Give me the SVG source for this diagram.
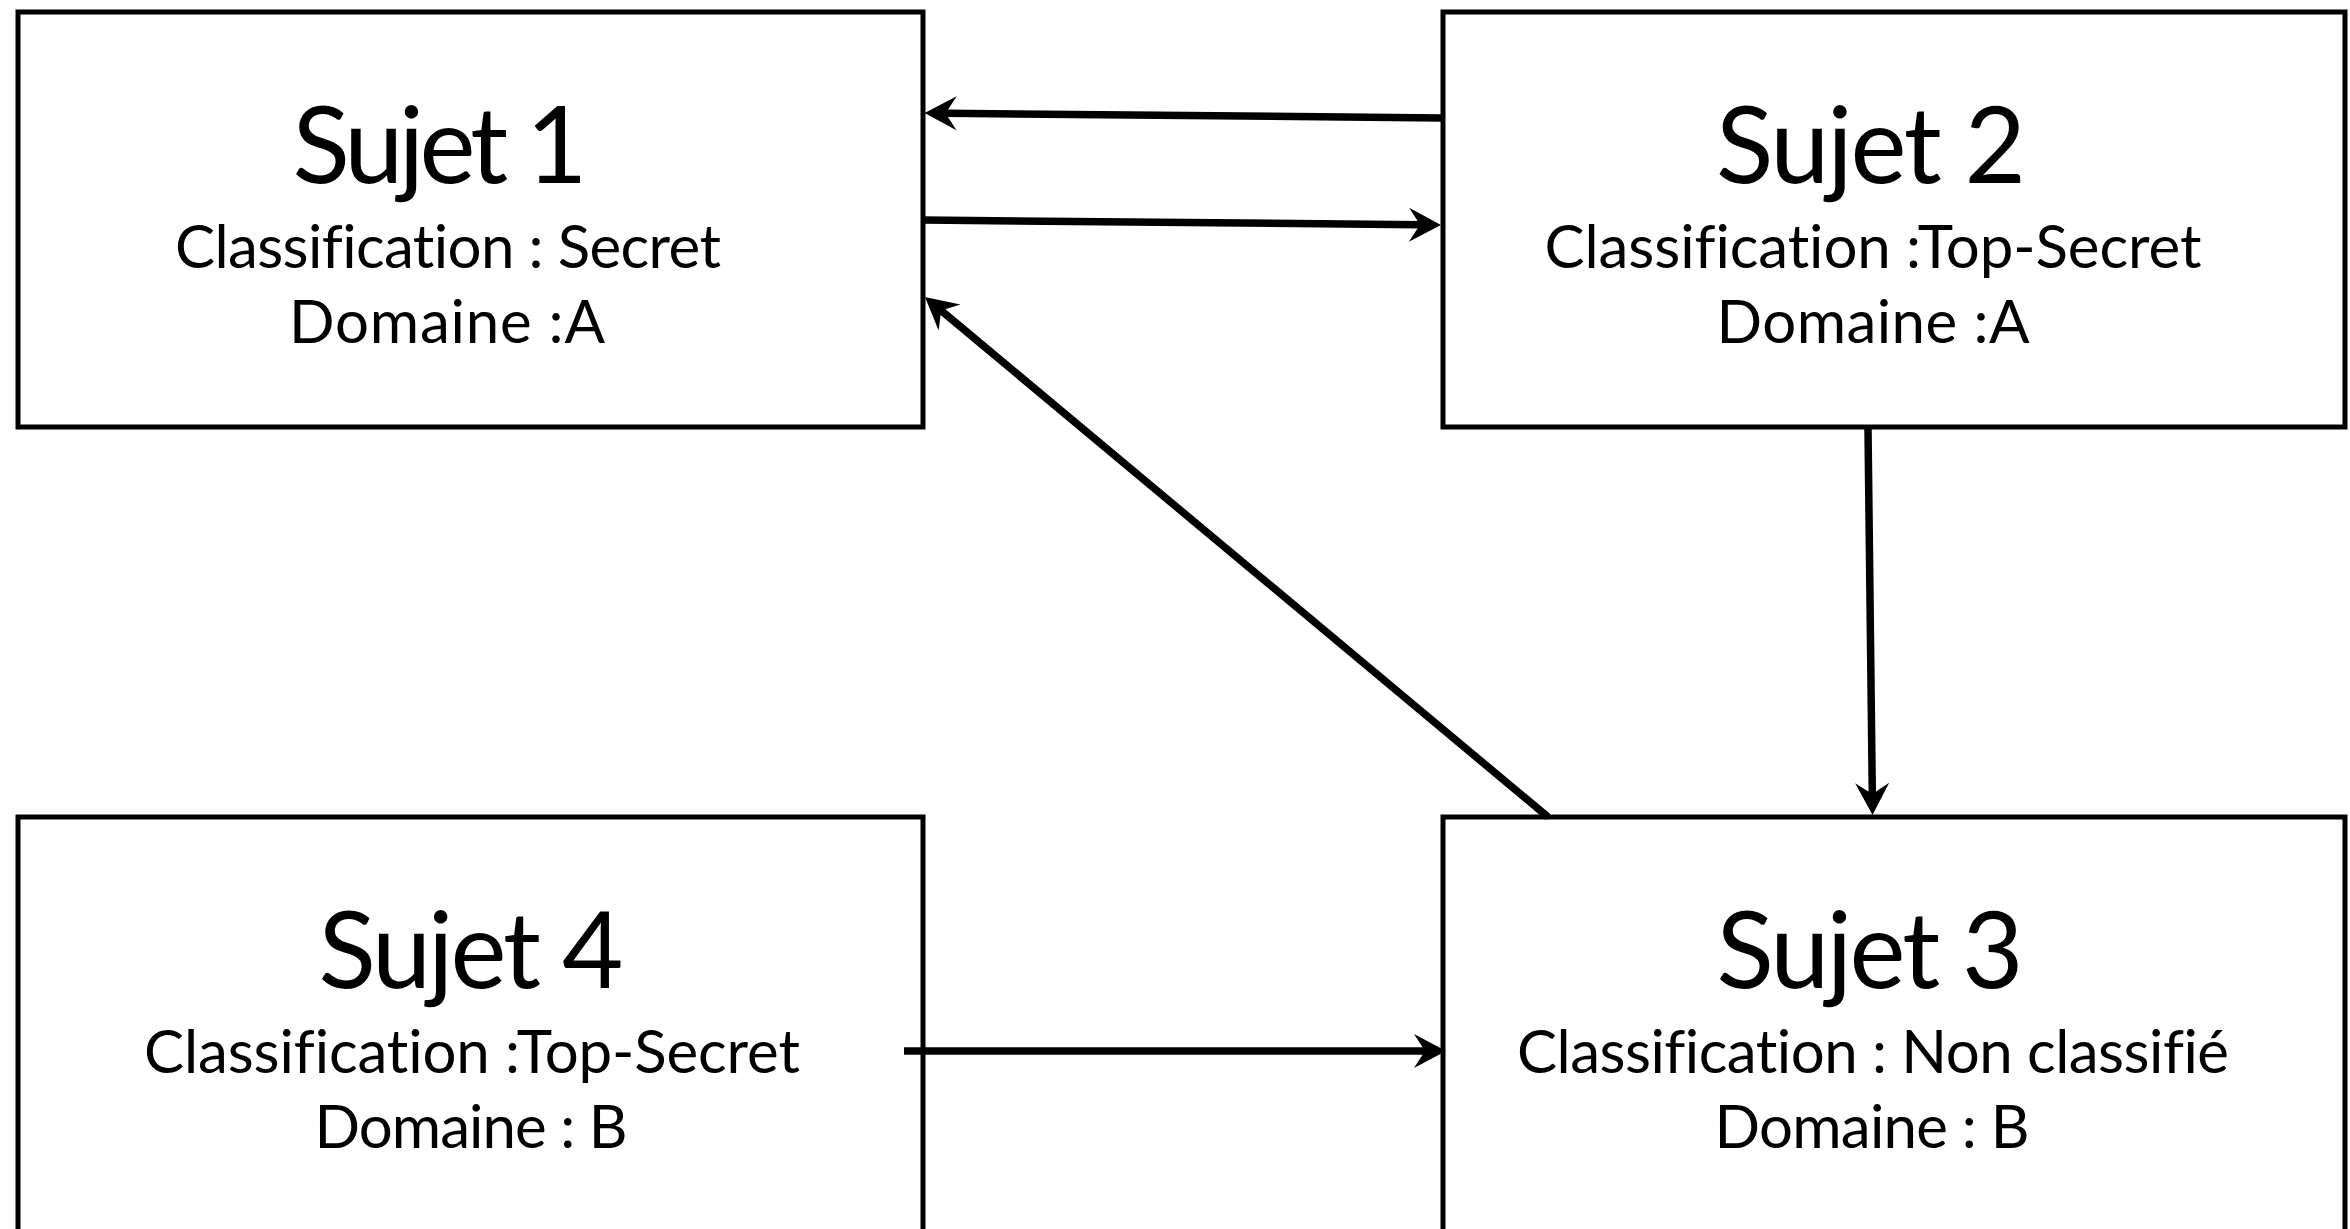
<svg xmlns="http://www.w3.org/2000/svg" width="2350" height="1229" viewBox="0 0 2350 1229">
  <style>
    .box { fill: #ffffff; stroke: #000000; stroke-width: 5; }
    .title { font-family: Lato, "Liberation Sans", sans-serif; font-size: 106px; fill: #000000; text-anchor: middle; font-variant-ligatures: none; font-feature-settings: "liga" 0, "dlig" 0; }
    .info { font-family: Lato, "Liberation Sans", sans-serif; font-size: 60px; fill: #000000; text-anchor: middle; font-variant-ligatures: none; font-feature-settings: "liga" 0, "dlig" 0; }
    .link { fill: none; stroke: #000000; stroke-width: 7.5; marker-end: url(#head); }
  </style>
  <defs>
    <!-- notched arrowhead: line ends at the notch, tip sits 21px further on -->
    <marker id="head" markerUnits="userSpaceOnUse" markerWidth="60" markerHeight="60" refX="0" refY="0" orient="auto" overflow="visible">
      <path d="M21,0 L-11,-17 L0,0 L-11,17 Z" fill="#000000"/>
    </marker>
  </defs>
  <rect width="2350" height="1229" fill="#ffffff"/>

  <g id="sujet1">
    <rect class="box" x="18" y="12" width="905" height="415"/>
    <text class="title" x="440" y="183" textLength="295">Sujet 1</text>
    <text class="info" x="448" y="268" textLength="546">Classification : Secret</text>
    <text class="info" x="447" y="343" textLength="316">Domaine :A</text>
  </g>

  <g id="sujet2">
    <rect class="box" x="1443" y="12" width="902" height="415"/>
    <text class="title" x="1871" y="183" textLength="310">Sujet 2</text>
    <text class="info" x="1873" y="268" textLength="657">Classification :Top-Secret</text>
    <text class="info" x="1873" y="343" textLength="313">Domaine :A</text>
  </g>

  <g id="sujet4">
    <rect class="box" x="18" y="817" width="905" height="415"/>
    <text class="title" x="471" y="988" textLength="305">Sujet 4</text>
    <text class="info" x="472" y="1073" textLength="656">Classification :Top-Secret</text>
    <text class="info" x="471" y="1148" textLength="313">Domaine : B</text>
  </g>

  <g id="sujet3">
    <rect class="box" x="1443" y="817" width="902" height="415"/>
    <text class="title" x="1870" y="988" textLength="307">Sujet 3</text>
    <text class="info" x="1873" y="1073" textLength="712">Classification : Non classifié</text>
    <text class="info" x="1872" y="1148" textLength="315">Domaine : B</text>
  </g>

  <g id="connectors">
    <line class="link" x1="1443" y1="118" x2="945.6" y2="113.2"/>
    <line class="link" x1="923" y1="220" x2="1420" y2="224.8"/>
    <line class="link" x1="1868" y1="429" x2="1872.3" y2="794"/>
    <line class="link" x1="1548" y1="817" x2="941.1" y2="310.5"/>
    <line class="link" x1="904" y1="1051" x2="1425" y2="1051"/>
  </g>
</svg>
